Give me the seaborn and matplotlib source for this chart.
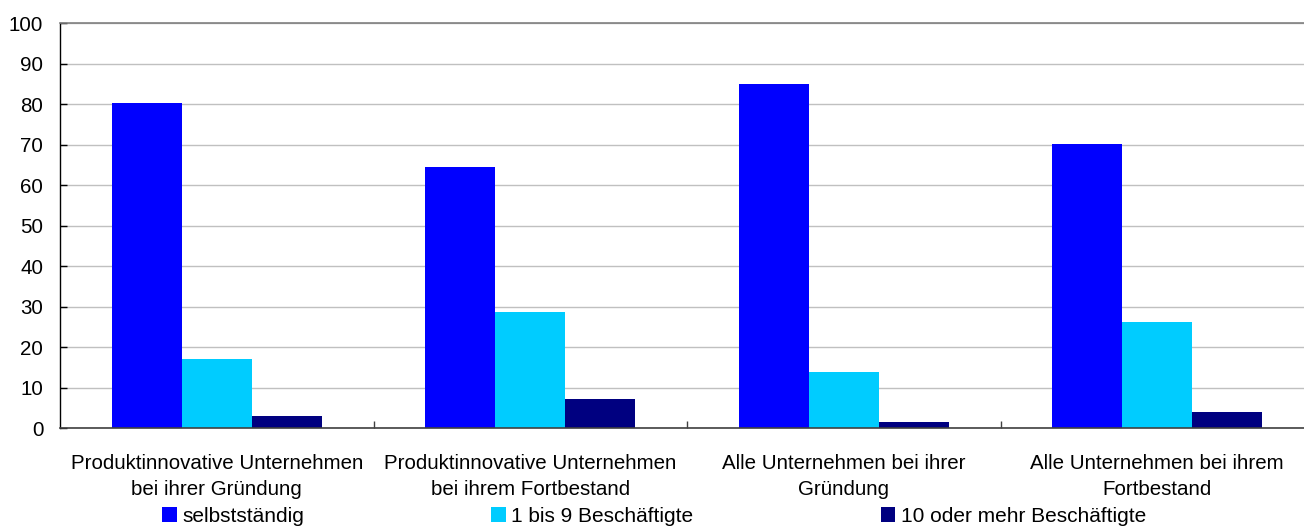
import matplotlib
matplotlib.use("Agg")
import matplotlib.pyplot as plt
from matplotlib.patches import Patch
from matplotlib.ticker import FixedLocator
import numpy as np
import pandas as pd
import seaborn as sns

# Categories (x axis) and the three size classes (hue)
categories = [
    "Produktinnovative Unternehmen\nbei ihrer Gründung",
    "Produktinnovative Unternehmen\nbei ihrem Fortbestand",
    "Alle Unternehmen bei ihrer\nGründung",
    "Alle Unternehmen bei ihrem\nFortbestand",
]
series_names = ["selbstständig", "1 bis 9 Beschäftigte", "10 oder mehr Beschäftigte"]
selbststaendig = [80.3, 64.5, 85.0, 70.2]
bis_9 = [17.1, 28.7, 13.9, 26.2]
ab_10 = [3.0, 7.2, 1.6, 4.0]
colors = ["#0000FF", "#00CCFF", "#000080"]
y_ticks = [0, 10, 20, 30, 40, 50, 60, 70, 80, 90, 100]

df = pd.DataFrame({
    "Kategorie": categories * 3,
    "Gruppe": [s for s in series_names for _ in categories],
    "Anteil": selbststaendig + bis_9 + ab_10,
})

sns.set_style("white")
plt.rcParams["font.family"] = ["Liberation Sans", "DejaVu Sans"]
plt.rcParams["font.size"] = 14.8
plt.rcParams["text.color"] = "black"
plt.rcParams["xtick.color"] = "black"
plt.rcParams["ytick.color"] = "black"

fig = plt.figure(figsize=(13.04, 5.27), dpi=100)
W, H = 1304, 527
ax = fig.add_axes([60 / W, 1 - 428.3 / H, 1254 / W, 405 / H])

sns.barplot(
    data=df, x="Kategorie", y="Anteil", hue="Gruppe",
    order=categories, hue_order=series_names,
    palette=colors, width=0.67, saturation=1, ax=ax, legend=False,
    linewidth=0,
)

ax.set_xlim(-0.5, len(categories) - 0.5)
ax.set_ylim(0, 100)
ax.set_yticks(y_ticks)
ax.set_xlabel("")
ax.set_ylabel("")
ax.yaxis.grid(True, color="#c0c0c0", linewidth=1.0)
ax.set_axisbelow(True)

ax.spines["left"].set_color("black")
ax.spines["left"].set_linewidth(1.0)
ax.spines["bottom"].set_color("#404040")
ax.spines["bottom"].set_linewidth(1.2)
ax.spines["top"].set_color("#808080")
ax.spines["top"].set_linewidth(1.2)
ax.spines["right"].set_visible(False)

ax.tick_params(axis="y", direction="in", length=5, width=1, color="black",
               labelcolor="black", labelsize=14.8, pad=12, left=True)
ax.tick_params(axis="x", which="major", length=0, labelcolor="black",
               labelsize=14.8, pad=18.5)
ax.xaxis.set_minor_locator(FixedLocator(np.arange(0.5, len(categories) - 0.5, 1)))
ax.tick_params(axis="x", which="minor", direction="in", length=5, width=1,
               color="#404040", bottom=True)
for lbl in ax.get_xticklabels():
    lbl.set_linespacing(1.45)

handles = [Patch(facecolor=c, edgecolor="none") for c in colors]
fig.legend(handles, series_names, loc="center", bbox_to_anchor=(654 / W, 1 - 516 / H),
           ncol=3, frameon=False, fontsize=15, handlelength=0.7, handleheight=0.7,
           handletextpad=0.25, columnspacing=9.0, borderpad=0, borderaxespad=0,
           labelcolor="black")

fig.savefig("out.png", dpi=100)
